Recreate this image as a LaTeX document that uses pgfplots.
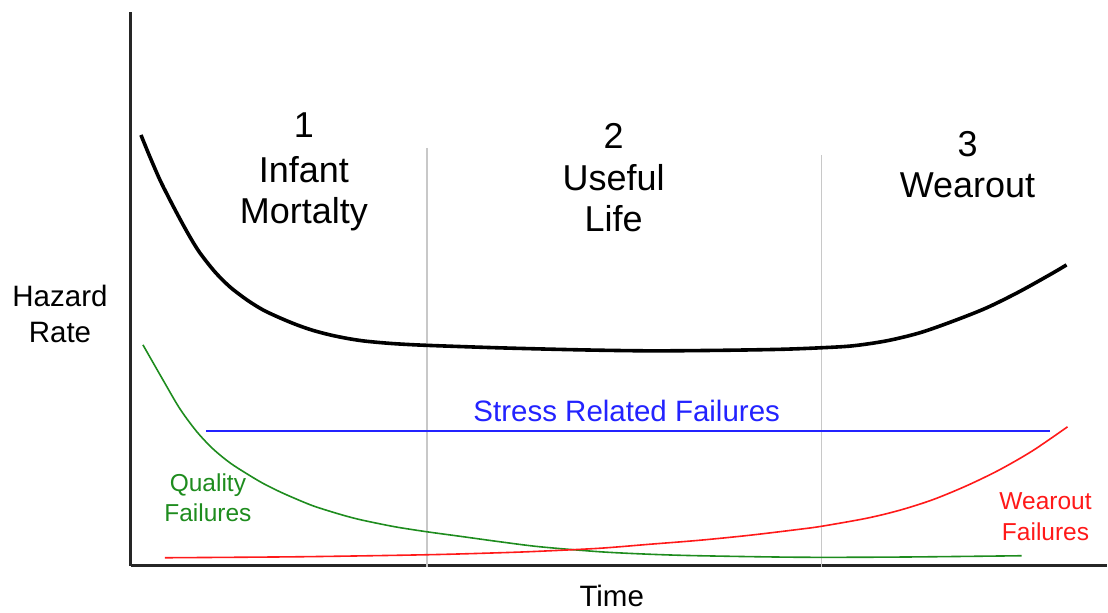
\documentclass[border=0pt]{standalone}
\usepackage{pgfplots}
\pgfplotsset{compat=1.18}
\usepackage{fontspec}
\setmainfont{Liberation Sans}
\definecolor{cgreen}{RGB}{30,140,30}
\definecolor{cred}{RGB}{255,25,25}
\definecolor{cblue}{RGB}{35,35,255}
\definecolor{cgray}{RGB}{200,200,200}
\newcommand{\fbig}{\fontsize{36bp}{42bp}\selectfont}
\newcommand{\fmed}{\fontsize{29.5bp}{35bp}\selectfont}
\newcommand{\fsml}{\fontsize{24.5bp}{30bp}\selectfont}
\begin{document}
\begin{tikzpicture}
\begin{axis}[
  scale only axis,
  width=976bp, height=554bp,
  xmin=131, xmax=1107, ymin=47, ymax=601,
  axis lines=left,
  axis line style={-, line width=3bp, black!85},
  xtick=\empty, ytick=\empty,
  clip=false,
]
% phase separators
\addplot[cgray, line width=1.6bp] coordinates {(427,465) (427,46)};
\addplot[cgray, line width=1.6bp] coordinates {(822,458) (822,46)};
% hazard rate (bathtub)
\addplot[black, line width=3.6bp, smooth] coordinates {
(141,478) (150,456) (160,433) (170,413) (180,394) (190,376) (200,360)
(215,341) (230,326) (247,313) (263,303) (280,295) (297,288) (313,282.5)
(330,278) (347,274.5) (363,272) (380,270.3) (397,269) (427,267.5) (500,265)
(580,263) (650,262) (720,262.5) (780,263.5) (820,265) (853,267)
(887,272) (920,280) (953,291.5) (987,305) (1020,321.3) (1053,339.7) (1067,348)};
% quality failures
\addplot[cgreen, line width=1.6bp, smooth] coordinates {
(143,268) (163,233) (180,204) (197,181) (213,164) (230,150) (247,139)
(263,129.5) (280,121) (297,113.5) (313,107) (330,101.5) (347,96.5) (363,92.5)
(395,86) (427,81) (460,76.5) (500,71) (540,66) (600,61) (650,58.5) (700,57)
(800,55.5) (900,55.7) (1022,57)};
% wearout failures
\addplot[cred, line width=1.6bp, smooth] coordinates {
(165,55) (300,56) (427,58) (500,60) (540,61.5) (600,64.5) (650,68.5) (700,72.5)
(750,77.5) (800,83.5) (822,86.5) (867,94.5) (900,102.5) (933,113) (967,127)
(1000,143) (1033,162) (1068,186)};
% stress related failures
\addplot[cblue, line width=1.4bp] coordinates {(206,182) (1050,182)};

% bounding box corners
\coordinate (bl) at (axis cs:0,0);
\coordinate (tr) at (axis cs:1108,613);

\begin{scope}[every node/.style={anchor=base, inner sep=0pt}]
\node at (axis cs:304,475) {\fbig 1};
\node at (axis cs:304,430) {\fbig Infant};
\node at (axis cs:304,389) {\fbig Mortalty};
\node at (axis cs:614,464) {\fbig 2};
\node at (axis cs:614,422) {\fbig Useful};
\node at (axis cs:614,381) {\fbig Life};
\node at (axis cs:968,456) {\fbig 3};
\node at (axis cs:968,415) {\fbig Wearout};
\node at (axis cs:60,306) {\fmed Hazard};
\node at (axis cs:60,270) {\fmed Rate};
\node at (axis cs:612,6) {\fmed Time};
\node[text=cblue] at (axis cs:627,191) {\fmed Stress Related Failures};
\node[text=cgreen] at (axis cs:208,121) {\fsml Quality};
\node[text=cgreen] at (axis cs:208,91) {\fsml Failures};
\node[text=cred] at (axis cs:1046,103) {\fsml Wearout};
\node[text=cred] at (axis cs:1046,72) {\fsml Failures};
\end{scope}
\end{axis}
\useasboundingbox (bl) rectangle (tr);
\end{tikzpicture}
\end{document}
